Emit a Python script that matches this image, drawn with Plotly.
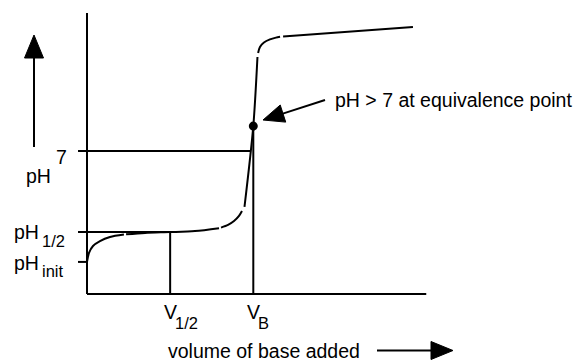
import plotly.graph_objects as go

W, H = 585, 362

# Schematic weak-acid / strong-base titration (volume normalised so V_B = 1)
vol = [0.0, 0.012, 0.036, 0.078, 0.138, 0.222, None,
       0.235, 0.349, 0.5, 0.649, 0.794, None,
       0.806, 0.848, 0.884, 0.914, 0.932, None,
       0.947, 1.0, 1.025, None,
       1.029, 1.040, 1.064, 1.100, 1.136, 1.161, None,
       1.179, 1.960]
ph = [1.57, 2.01, 2.35, 2.59, 2.79, 2.91, None,
      2.92, 2.99, 3.03, 3.08, 3.22, None,
      3.25, 3.38, 3.57, 3.82, 4.06, None,
      4.26, 8.22, 11.60, None,
      11.80, 12.09, 12.31, 12.46, 12.55, 12.59, None,
      12.61, 13.07]

v_half, v_eq = 0.5, 1.0
ph_init, ph_half, ph_seven, ph_eq = 1.57, 3.03, 7.0, 8.22
x_at_seven = 0.985           # where the curve crosses pH 7
x_max, y_max = 2.04, 13.75   # extent of the drawn axes
tick_len = 0.054             # tick stubs left of the pH axis

# pixel placement of the plotting frame
ORIGIN_X, ORIGIN_Y = 87, 294
SX, SY = 166.3, 20.43

BLACK = "#000000"
FAMILY = "Liberation Sans, Arial, Helvetica, sans-serif"
MAIN = 19.5
SUB = 16.5

fig = go.Figure()


def seg(xs, ys, width=2):
    fig.add_trace(go.Scatter(x=xs, y=ys, mode="lines", hoverinfo="skip",
                             line=dict(color=BLACK, width=width), showlegend=False))


# axes
seg([0, x_max], [0, 0])
seg([0, 0], [0, y_max])
# guide lines and tick stubs
seg([-tick_len, x_at_seven], [ph_seven, ph_seven])
seg([-tick_len, v_half], [ph_half, ph_half])
seg([-tick_len, 0], [ph_init, ph_init])
seg([v_half, v_half], [0, ph_half])
seg([v_eq, v_eq], [0, ph_eq])

# titration curve
fig.add_trace(go.Scatter(x=vol, y=ph, mode="lines", hoverinfo="skip", showlegend=False,
                         line=dict(color=BLACK, width=2, shape="spline", smoothing=0.8),
                         connectgaps=False))
# equivalence point
fig.add_trace(go.Scatter(x=[v_eq], y=[ph_eq], mode="markers", hoverinfo="skip", showlegend=False,
                         marker=dict(color=BLACK, size=9)))


def pp(x, y):
    """pixel -> paper coordinates"""
    return x / W, 1 - y / H


def arrow(x0, y0, x1, y1, head_len, head_w):
    dx, dy = x1 - x0, y1 - y0
    d = (dx * dx + dy * dy) ** 0.5
    ux, uy = dx / d, dy / d
    bx, by = x1 - ux * head_len, y1 - uy * head_len
    nx, ny = -uy * head_w / 2, ux * head_w / 2
    a, b = pp(x0, y0)
    c, e = pp(bx + ux, by + uy)
    fig.add_shape(type="line", xref="paper", yref="paper", x0=a, y0=b, x1=c, y1=e,
                  line=dict(color=BLACK, width=2))
    pts = [pp(x1, y1), pp(bx + nx, by + ny), pp(bx - nx, by - ny)]
    path = "M{},{} L{},{} L{},{} Z".format(*[v for p in pts for v in p])
    fig.add_shape(type="path", xref="paper", yref="paper", path=path,
                  fillcolor=BLACK, line=dict(color=BLACK, width=1))


arrow(34, 147, 34, 35, 23, 19)
arrow(377, 350.5, 453, 350.5, 22, 18)
arrow(325, 100, 263, 120, 21, 18)


def label(text, x, y, size=MAIN, xanchor="left"):
    px_, py_ = pp(x, y)
    fig.add_annotation(text=text, x=px_, y=py_, xref="paper", yref="paper",
                       xanchor=xanchor, yanchor="middle", showarrow=False,
                       font=dict(family=FAMILY, size=size, color=BLACK))


label("7", 69, 157, xanchor="right")
label("pH", 24, 176)
label("pH", 12, 232)
label("1/2", 40, 241, size=SUB)
label("pH", 12, 263)
label("init", 40, 271, size=SUB)
label("V", 162, 312)
label("1/2", 173, 323, size=SUB)
label("V", 245, 312)
label("B", 256, 323, size=SUB)
label("volume of base added", 166, 351)
label("pH &gt; 7 at equivalence point", 333, 100)

fig.update_layout(
    width=W, height=H,
    margin=dict(l=0, r=0, t=0, b=0),
    paper_bgcolor="white", plot_bgcolor="white",
    xaxis=dict(range=[-ORIGIN_X / SX, (W - ORIGIN_X) / SX], visible=False, fixedrange=True),
    yaxis=dict(range=[(ORIGIN_Y - H) / SY, ORIGIN_Y / SY], visible=False, fixedrange=True),
    showlegend=False,
)

fig.write_html("out.html", config=dict(displayModeBar=False))
